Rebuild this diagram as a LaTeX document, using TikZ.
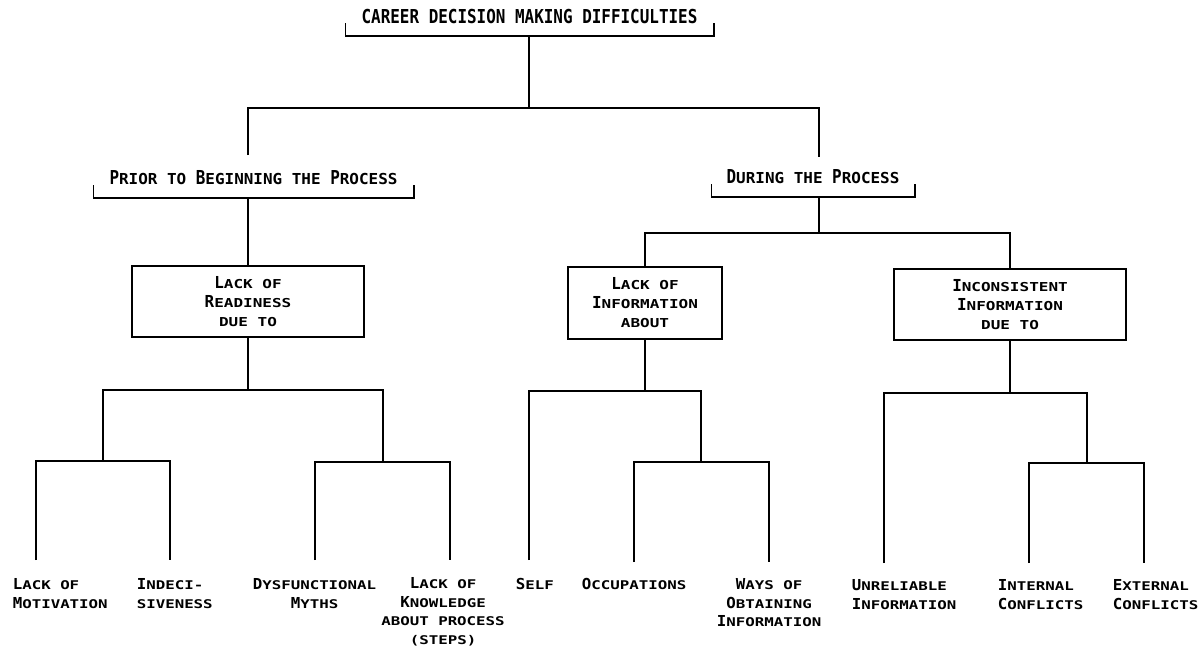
\documentclass[tikz,border=0pt]{standalone}
\usepackage{fontspec}
\usepackage{graphicx}
\newfontfamily\monof{DejaVu Sans Mono}
\newcommand\Bg[1]{\scalebox{\bx}[1]{\fontsize{\bsz}{19}\selectfont #1}}
\newcommand\Sm[1]{\scalebox{\sx}[1]{\fontsize{\ssz}{19}\selectfont #1}}
\newcommand\titlefont{\def\bsz{19.2}\def\bx{0.83}\def\ssz{15.1}\def\sx{1.056}\monof\bfseries\fontsize{15}{19}\selectfont}
\newcommand\boxfont{\def\bsz{16.5}\def\bx{0.967}\def\ssz{12.3}\def\sx{1.30}\monof\bfseries\fontsize{12}{19}\selectfont}
\newcommand\leaffont{\def\bsz{15.1}\def\bx{1.045}\def\ssz{12}\def\sx{1.315}\monof\bfseries\fontsize{12}{18.6}\selectfont}
\newcommand\bracket[1]{\draw ([yshift=13pt]#1.south west) -- (#1.south west) -- (#1.south east) -- ([yshift=13pt]#1.south east);}
\begin{document}
\begin{tikzpicture}[x=1pt,y=-1pt, line width=1.5pt,
  brk/.style={anchor=south, inner sep=0pt, text height=14pt, text depth=13pt, font=\titlefont},
  boxn/.style={draw, inner sep=0pt, align=center, font=\boxfont},
  leaf/.style={inner sep=0pt, font=\leaffont},
  leafl/.style={leaf, anchor=north west, align=left},
  leafc/.style={leaf, anchor=north, align=center}]
\useasboundingbox (0,0) rectangle (1204,646);
\fill[white] (0,0) rectangle (1204,646);

% headings with brackets
\node[brk, minimum width=367, text depth=12pt] (title) at (529.5,36) {\Bg{CAREER DECISION MAKING DIFFICULTIES}};
\node[brk, minimum width=319] (prior) at (253.5,198) {\Bg{P}\Sm{RIOR TO }\Bg{B}\Sm{EGINNING THE }\Bg{P}\Sm{ROCESS}};
\node[brk, minimum width=202] (during) at (813,197) {\Bg{D}\Sm{URING THE }\Bg{P}\Sm{ROCESS}};
\bracket{title}
\bracket{prior}
\bracket{during}

% boxes
\node[boxn, minimum width=232, minimum height=71] (ready) at (248,301.5) {\Bg{L}\Sm{ACK OF}\\\Bg{R}\Sm{EADINESS}\\\Sm{DUE TO}};
\node[boxn, minimum width=154, minimum height=72] (info) at (645,303) {\Bg{L}\Sm{ACK OF}\\\Bg{I}\Sm{NFORMATION}\\\Sm{ABOUT}};
\node[boxn, minimum width=232, minimum height=71] (incon) at (1010,304.5) {\Bg{I}\Sm{NCONSISTENT}\\\Bg{I}\Sm{NFORMATION}\\\Sm{DUE TO}};

% leaves
\node[leafl] (l1) at (12,578) {\Bg{L}\Sm{ACK OF}\\\Bg{M}\Sm{OTIVATION}};
\node[leafl] (l2) at (136,578) {\Bg{I}\Sm{NDECI-}\\\Sm{SIVENESS}};
\node[leafc] (l3) at (314.5,578) {\Bg{D}\Sm{YSFUNCTIONAL}\\\Bg{M}\Sm{YTHS}};
\node[leafc] (l4) at (443,577) {\Bg{L}\Sm{ACK OF}\\\Bg{K}\Sm{NOWLEDGE}\\\Sm{ABOUT PROCESS}\\\Sm{(STEPS)}};
\node[leafl] (l5) at (515,578) {\Bg{S}\Sm{ELF}};
\node[leafl] (l6) at (581,578) {\Bg{O}\Sm{CCUPATIONS}};
\node[leafc] (l7) at (769,578) {\Bg{W}\Sm{AYS OF}\\\Bg{O}\Sm{BTAINING}\\\Bg{I}\Sm{NFORMATION}};
\node[leafl] (l8) at (851,579) {\Bg{U}\Sm{NRELIABLE}\\\Bg{I}\Sm{NFORMATION}};
\node[leafl] (l9) at (997,579) {\Bg{I}\Sm{NTERNAL}\\\Bg{C}\Sm{ONFLICTS}};
\node[leafl] (l10) at (1112,579) {\Bg{E}\Sm{XTERNAL}\\\Bg{C}\Sm{ONFLICTS}};

% junctions and free ends
\coordinate (j0) at (529,108);
\coordinate (pa) at (248,155);
\coordinate (qa) at (819,157);
\coordinate (jd) at (819,233);
\coordinate (jr) at (248,390);
\coordinate (ja) at (103,461);
\coordinate (jb) at (383,462);
\coordinate (e1) at (36,560);
\coordinate (e2) at (170,560);
\coordinate (e3) at (315,560);
\coordinate (e4) at (450,560);
\coordinate (ji) at (645,391);
\coordinate (jc) at (701,462);
\coordinate (e5) at (529,560);
\coordinate (e6) at (634,562);
\coordinate (e7) at (769,562);
\coordinate (jn) at (1010,393);
\coordinate (je) at (1087,463);
\coordinate (e8) at (884,563);
\coordinate (e9) at (1029,563);
\coordinate (e10) at (1144,563);

% connectors
\draw (title.south -| j0) -- (j0);
\draw (pa) |- (j0) -| (qa);
\draw (ready.north |- prior.south) -- (ready.north);
\draw (jd |- during.south) -- (jd);
\draw (info.north) |- (jd) -| (incon.north);
\draw (ready.south) -- (jr);
\draw (ja) |- (jr) -| (jb);
\draw (e1) |- (ja) -| (e2);
\draw (e3) |- (jb) -| (e4);
\draw (info.south) -- (ji);
\draw (e5) |- (ji) -| (jc);
\draw (e6) |- (jc) -| (e7);
\draw (incon.south) -- (jn);
\draw (e8) |- (jn) -| (je);
\draw (e9) |- (je) -| (e10);
\end{tikzpicture}
\end{document}
